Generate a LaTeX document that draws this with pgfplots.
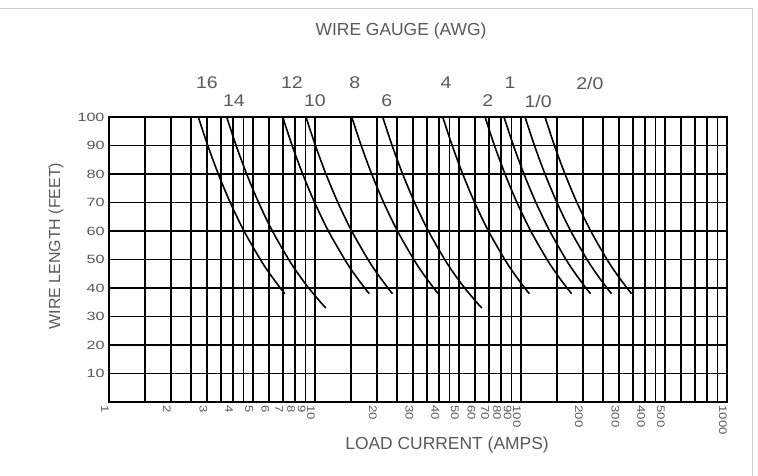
\documentclass[border=0pt]{standalone}
\usepackage{fontspec}
\setmainfont{Liberation Sans}
\newfontfamily\ytf{Liberation Sans}[FakeStretch=1.35]
\newfontfamily\xtf{Liberation Sans}[FakeStretch=1.2]
\newfontfamily\gtf{Liberation Sans}[FakeStretch=1.15]
\usepackage{pgfplots}
\pgfplotsset{compat=1.18}
\definecolor{txt}{gray}{0.35}
\begin{document}
\begin{tikzpicture}
\path[use as bounding box] (-109bp,-74bp) rectangle (649bp,402bp);
\draw[gray!35, line width=0.8bp] (-109bp,394bp) -- (643bp,394bp) -- (643bp,-74bp);
\begin{axis}[
  at={(0,0)}, anchor=south west,
  scale only axis, width=618bp, height=285bp,
  xmode=log, xmin=1, xmax=1000, ymin=0, ymax=100,
  xtick={1,1.5,2,2.5,3,3.5,4,4.5,5,6,7,8,9,10,15,20,25,30,35,40,45,50,60,70,80,90,100,150,200,250,300,350,400,450,500,600,700,800,900,1000},
  xticklabels={1,,2,,3,,4,,5,6,7,8,9,10,,20,,30,,40,,50,60,70,80,90,100,,200,,300,,400,,500,,,,,1000},
  ytick={10,20,30,40,50,60,70,80,90,100},
  yticklabels={10,20,30,40,50,60,70,80,90,100},
  grid=major,
  major grid style={black, line width=1.8bp},
  minor tick length=0pt,
  major tick length=0pt,
  axis line style={black, line width=1.8bp},
  x tick label style={rotate=-90, anchor=west, font=\xtf\fontsize{11}{11}\selectfont, text=txt, yshift=-4bp},
  y tick label style={font=\ytf\fontsize{12}{12}\selectfont, text=txt, xshift=-1bp},
  clip=false,
]
% 16 AWG
\addplot[black, line width=1.6bp, smooth, no markers] coordinates {
 (2.714,100) (3.016,90) (3.393,80) (3.877,70) (4.523,60) (5.428,50) (6.031,45) (6.785,40) (7.142,38)};
% 14 AWG
\addplot[black, line width=1.6bp, smooth, no markers] coordinates {
 (3.727,100) (4.141,90) (4.659,80) (5.324,70) (6.212,60) (7.454,50) (8.282,45) (9.318,40) (10.649,35) (11.294,33)};
% 12 AWG
\addplot[black, line width=1.6bp, smooth, no markers] coordinates {
 (6.97,100) (7.744,90) (8.713,80) (9.957,70) (11.617,60) (13.94,50) (15.489,45) (17.425,40) (18.342,38)};
% 10 AWG
\addplot[black, line width=1.6bp, smooth, no markers] coordinates {
 (9.04,100) (10.044,90) (11.3,80) (12.914,70) (15.067,60) (18.08,50) (20.089,45) (22.6,40) (23.79,38)};
% 8 AWG
\addplot[black, line width=1.6bp, smooth, no markers] coordinates {
 (15.08,100) (16.755,90) (18.85,80) (21.543,70) (25.133,60) (30.16,50) (33.511,45) (37.7,40) (39.684,38)};
% 6 AWG
\addplot[black, line width=1.6bp, smooth, no markers] coordinates {
 (21.31,100) (23.678,90) (26.638,80) (30.443,70) (35.517,60) (42.62,50) (47.356,45) (53.275,40) (60.886,35) (64.576,33)};
% 4 AWG
\addplot[black, line width=1.6bp, smooth, no markers] coordinates {
 (41.7,100) (46.333,90) (52.125,80) (59.571,70) (69.5,60) (83.4,50) (92.667,45) (104.25,40) (109.74,38)};
% 2 AWG
\addplot[black, line width=1.6bp, smooth, no markers] coordinates {
 (66.9,100) (74.333,90) (83.625,80) (95.571,70) (111.5,60) (133.8,50) (148.67,45) (167.25,40) (176.05,38)};
% 1 AWG
\addplot[black, line width=1.6bp, smooth, no markers] coordinates {
 (82.7,100) (91.889,90) (103.375,80) (118.14,70) (137.83,60) (165.4,50) (183.78,45) (206.75,40) (217.63,38)};
% 1/0 AWG
\addplot[black, line width=1.6bp, smooth, no markers] coordinates {
 (104.6,100) (116.22,90) (130.75,80) (149.43,70) (174.33,60) (209.2,50) (232.44,45) (261.5,40) (275.26,38)};
% 2/0 AWG
\addplot[black, line width=1.6bp, smooth, no markers] coordinates {
 (130.8,100) (145.33,90) (163.5,80) (186.86,70) (218,60) (261.6,50) (290.67,45) (327,40) (344.21,38)};

\begin{scope}[every node/.style={font=\gtf\fontsize{17}{17}\selectfont, text=txt}]
\node at (axis cs:2.99,111.9) {16};
\node at (axis cs:4.04,105.6) {14};
\node at (axis cs:7.73,111.9) {12};
\node at (axis cs:10,105.6) {10};
\node at (axis cs:15.6,111.9) {8};
\node at (axis cs:22.3,105.6) {6};
\node at (axis cs:43.3,111.9) {4};
\node at (axis cs:69,105.6) {2};
\node at (axis cs:88.4,111.9) {1};
\node at (axis cs:121,105.6) {1/0};
\node at (axis cs:216,111.9) {2/0};
\end{scope}
\node[font=\fontsize{17.5}{17.5}\selectfont, text=txt] at (rel axis cs:0.4725,1.302) {WIRE GAUGE (AWG)};
\node[font=\fontsize{17.5}{17.5}\selectfont, text=txt] at (rel axis cs:0.547,-0.151) {LOAD CURRENT (AMPS)};
\node[font=\fontsize{16}{16}\selectfont, text=txt, rotate=90] at (rel axis cs:-0.0858,0.547) {WIRE LENGTH (FEET)};
\end{axis}
\end{tikzpicture}
\end{document}
